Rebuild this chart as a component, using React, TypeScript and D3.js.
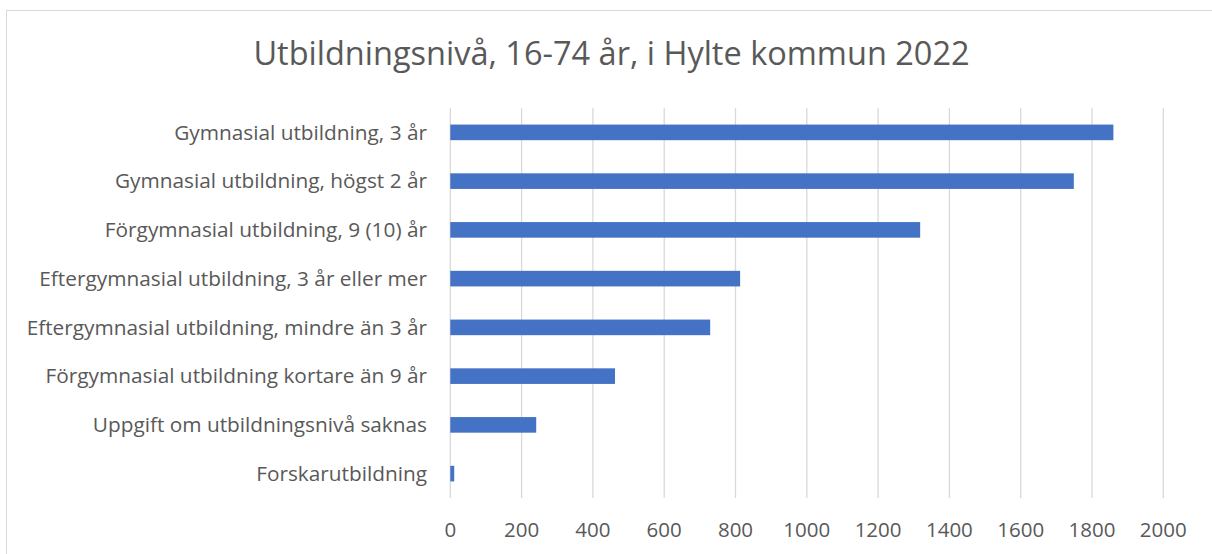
import * as d3 from 'd3';
import { useEffect, useRef } from 'react';

const categories = [
  'Gymnasial utbildning, 3 år',
  'Gymnasial utbildning, högst 2 år',
  'Förgymnasial utbildning, 9 (10) år',
  'Eftergymnasial utbildning, 3 år eller mer',
  'Eftergymnasial utbildning, mindre än 3 år',
  'Förgymnasial utbildning kortare än 9 år',
  'Uppgift om utbildningsnivå saknas',
  'Forskarutbildning',
];
const values = [1860, 1749, 1318, 813, 729, 462, 241, 11];
const xTicks = [0, 200, 400, 600, 800, 1000, 1200, 1400, 1600, 1800, 2000];
const title = 'Utbildningsnivå, 16-74 år, i Hylte kommun 2022';

const W = 1212;
const H = 554;
const FONT = '"Open Sans", sans-serif';
const TEXT = '#595959';

const App = () => {
  const ref = useRef<SVGSVGElement>(null);

  useEffect(() => {
    const svg = d3.select(ref.current);
    svg.selectAll('*').remove();

    // chart frame (right and bottom edges fall outside the picture)
    svg.append('rect')
      .attr('x', 6.5).attr('y', 10.5)
      .attr('width', W + 20).attr('height', H + 20)
      .attr('fill', '#fff').attr('stroke', '#d9d9d9');

    svg.append('text')
      .attr('x', 611.5).attr('y', 65)
      .attr('text-anchor', 'middle')
      .attr('font-family', FONT).attr('font-size', 32.5)
      .attr('fill', TEXT)
      .text(title);

    const x = d3.scaleLinear().domain([0, 2000]).range([450.3, 1163.3]);
    const y = d3.scaleBand().domain(categories).range([108, 498]).paddingInner(0.68).paddingOuter(0.34);

    const grid = svg.append('g');
    grid.selectAll('line')
      .data(xTicks)
      .enter()
      .append('line')
      .attr('x1', d => x(d)).attr('x2', d => x(d))
      .attr('y1', 108).attr('y2', 498)
      .attr('stroke', '#d9d9d9').attr('stroke-width', 1.3);

    svg.append('g').selectAll('rect')
      .data(values)
      .enter()
      .append('rect')
      .attr('x', x(0))
      .attr('y', (_, i) => y(categories[i])!)
      .attr('width', d => x(d) - x(0))
      .attr('height', y.bandwidth())
      .attr('fill', '#4472c4');

    svg.append('g').selectAll('text')
      .data(categories)
      .enter()
      .append('text')
      .attr('x', 427)
      .attr('y', d => y(d)! + y.bandwidth() / 2)
      .attr('dy', '0.35em')
      .attr('text-anchor', 'end')
      .attr('font-family', FONT).attr('font-size', 20.8)
      .attr('fill', TEXT)
      .text(d => d);

    svg.append('g').selectAll('text')
      .data(xTicks)
      .enter()
      .append('text')
      .attr('x', d => x(d))
      .attr('y', 530)
      .attr('dy', '0.35em')
      .attr('text-anchor', 'middle')
      .attr('font-family', FONT).attr('font-size', 20.5)
      .attr('fill', TEXT)
      .text(d => String(d));
  }, []);

  return (
    <svg ref={ref} width={W} height={H}
      style={{ position: 'absolute', left: 0, top: 0, display: 'block', background: '#fff' }} />
  );
};

export default App;
